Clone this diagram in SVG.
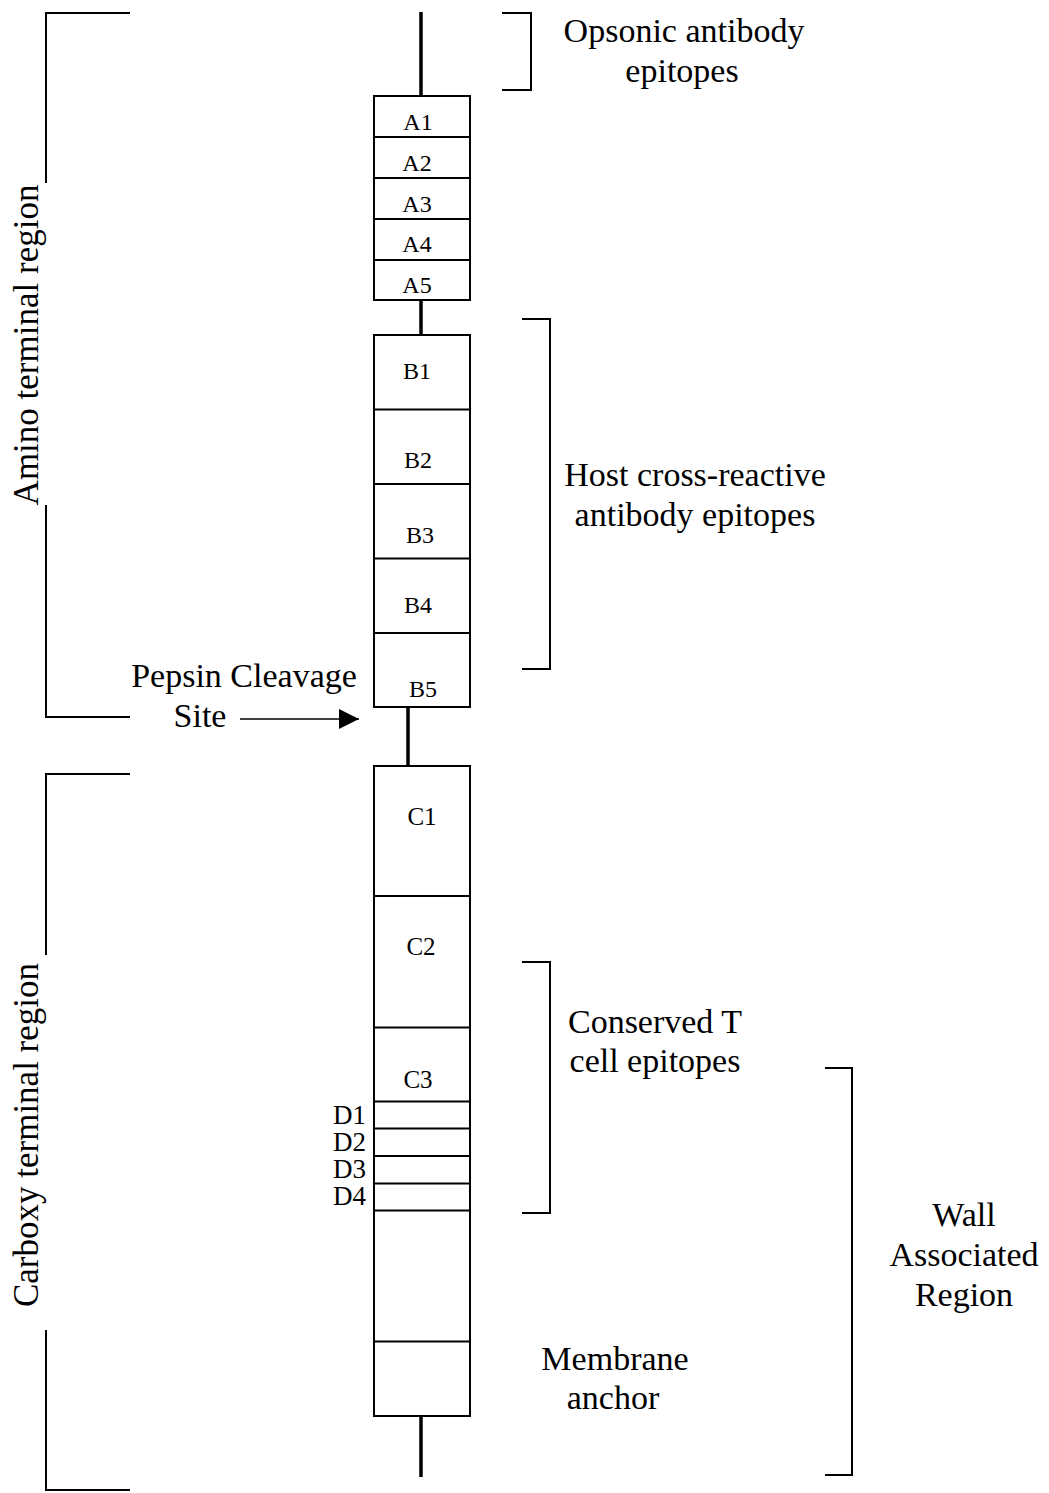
<svg xmlns="http://www.w3.org/2000/svg" width="1049" height="1493" viewBox="0 0 1049 1493">
<style>
text{font-family:"Liberation Serif","Times New Roman",serif;fill:#000}
.big{font-size:34px;text-anchor:middle}
.cell{font-size:24px;text-anchor:middle}
.d{font-size:27px;text-anchor:end}
.box{fill:#fff;stroke:#000;stroke-width:2}
.div{stroke:#000;stroke-width:2;fill:none}
.br{stroke:#000;stroke-width:2;fill:none}
.stem{stroke:#000;stroke-width:3.5;fill:none}
.arr{stroke:#000;stroke-width:1.6;fill:none}
</style>
<defs>
<marker id="ah" markerWidth="20" markerHeight="20" refX="20" refY="10" orient="auto" markerUnits="userSpaceOnUse">
<path d="M0,0 L20,10 L0,20 Z" fill="#000"/>
</marker>
</defs>
<rect width="1049" height="1493" fill="#fff"/>

<g id="connectors">
<line class="stem" x1="421" y1="12" x2="421" y2="96"/>
<line class="stem" x1="421" y1="300" x2="421" y2="335"/>
<line class="stem" x1="408" y1="707" x2="408" y2="766"/>
<line class="stem" x1="421" y1="1415" x2="421" y2="1477"/>
<line class="arr" x1="240" y1="719" x2="359" y2="719" marker-end="url(#ah)"/>
</g>

<g id="segment-A">
<rect class="box" x="374" y="96" width="96" height="204"/>
<line class="div" x1="374" y1="137" x2="470" y2="137"/>
<line class="div" x1="374" y1="178" x2="470" y2="178"/>
<line class="div" x1="374" y1="219" x2="470" y2="219"/>
<line class="div" x1="374" y1="260" x2="470" y2="260"/>
<text class="cell" x="418" y="130">A1</text>
<text class="cell" x="417" y="171">A2</text>
<text class="cell" x="417" y="212">A3</text>
<text class="cell" x="417" y="252">A4</text>
<text class="cell" x="417" y="293">A5</text>
</g>

<g id="segment-B">
<rect class="box" x="374" y="335" width="96" height="372"/>
<line class="div" x1="374" y1="409.5" x2="470" y2="409.5"/>
<line class="div" x1="374" y1="484" x2="470" y2="484"/>
<line class="div" x1="374" y1="558.5" x2="470" y2="558.5"/>
<line class="div" x1="374" y1="633" x2="470" y2="633"/>
<text class="cell" x="417" y="379">B1</text>
<text class="cell" x="418" y="468">B2</text>
<text class="cell" x="420" y="543">B3</text>
<text class="cell" x="418" y="613">B4</text>
<text class="cell" x="423" y="697">B5</text>
</g>

<g id="segment-C">
<rect class="box" x="374" y="766" width="96" height="650"/>
<line class="div" x1="374" y1="896" x2="470" y2="896"/>
<line class="div" x1="374" y1="1027.5" x2="470" y2="1027.5"/>
<line class="div" x1="374" y1="1101.5" x2="470" y2="1101.5"/>
<line class="div" x1="374" y1="1128.5" x2="470" y2="1128.5"/>
<line class="div" x1="374" y1="1156" x2="470" y2="1156"/>
<line class="div" x1="374" y1="1183.5" x2="470" y2="1183.5"/>
<line class="div" x1="374" y1="1210.5" x2="470" y2="1210.5"/>
<line class="div" x1="374" y1="1341.5" x2="470" y2="1341.5"/>
<text class="cell" x="422" y="825" style="font-size:25px">C1</text>
<text class="cell" x="421" y="955" style="font-size:25px">C2</text>
<text class="cell" x="418" y="1088" style="font-size:25px">C3</text>
</g>

<g id="labels-D">
<text class="d" x="366" y="1124">D1</text>
<text class="d" x="366" y="1151">D2</text>
<text class="d" x="366" y="1178">D3</text>
<text class="d" x="366" y="1205">D4</text>
</g>

<g id="opsonic">
<polyline class="br" points="502,13 531,13 531,90 502,90"/>
<text class="big" x="684" y="42">Opsonic antibody</text>
<text class="big" x="682" y="82">epitopes</text>
</g>

<g id="host">
<polyline class="br" points="522,319 550,319 550,669 522,669"/>
<text class="big" x="695" y="486">Host cross-reactive</text>
<text class="big" x="695" y="526">antibody epitopes</text>
</g>

<g id="conserved">
<polyline class="br" points="522,962 550,962 550,1213 522,1213"/>
<text class="big" x="655" y="1033">Conserved T</text>
<text class="big" x="655" y="1072">cell epitopes</text>
</g>

<g id="wall">
<polyline class="br" points="825,1068 852,1068 852,1475 825,1475"/>
<text class="big" x="964" y="1226">Wall</text>
<text class="big" x="964" y="1266">Associated</text>
<text class="big" x="964" y="1306">Region</text>
</g>

<g id="membrane">
<text class="big" x="615" y="1370">Membrane</text>
<text class="big" x="613" y="1409">anchor</text>
</g>

<g id="pepsin">
<text class="big" x="244" y="687">Pepsin Cleavage</text>
<text class="big" x="200" y="727">Site</text>
</g>

<g id="amino">
<polyline class="br" points="130,13 46,13 46,183"/>
<polyline class="br" points="46,505 46,717 130,717"/>
<text class="big" transform="translate(38,345) rotate(-90)" style="font-size:35px">Amino terminal region</text>
</g>

<g id="carboxy">
<polyline class="br" points="130,774 46,774 46,955"/>
<polyline class="br" points="46,1330 46,1490 130,1490"/>
<text class="big" transform="translate(38,1135) rotate(-90)" style="font-size:35px">Carboxy terminal region</text>
</g>
</svg>
